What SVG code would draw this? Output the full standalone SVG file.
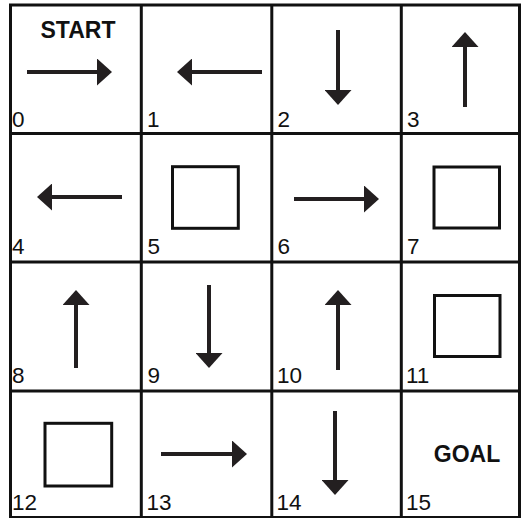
<svg xmlns="http://www.w3.org/2000/svg" width="526" height="518" viewBox="0 0 526 518">
<style>
.grid{stroke:#111;stroke-width:3;fill:none}
.arr{stroke:#231f20;stroke-width:4;fill:none;marker-end:url(#head)}
.box{stroke:#111;stroke-width:3;fill:#fff}
.num{font-family:"Liberation Sans",Arial,sans-serif;font-size:22.5px;fill:#111}
.lbl{font-family:"Liberation Sans",Arial,sans-serif;font-size:23px;font-weight:bold;fill:#111;text-anchor:middle}
</style>
<defs>
<marker id="head" markerUnits="userSpaceOnUse" markerWidth="16" markerHeight="27" refX="0" refY="13.5" orient="auto">
<path d="M0,0 L15,13.5 L0,27 Z" fill="#231f20"/>
</marker>
</defs>
<rect x="0" y="0" width="526" height="518" fill="#fff"/>
<g id="grid">
<rect class="grid" x="10.5" y="5" width="509" height="512.5"/>
<line class="grid" x1="141.3" y1="5" x2="141.3" y2="518"/>
<line class="grid" x1="271.8" y1="5" x2="271.8" y2="518"/>
<line class="grid" x1="401.3" y1="5" x2="401.3" y2="518"/>
<line class="grid" x1="10" y1="133.5" x2="520" y2="133.5"/>
<line class="grid" x1="10" y1="262" x2="520" y2="262"/>
<line class="grid" x1="10" y1="391" x2="520" y2="391"/>
</g>
<g id="cell0"><text class="lbl" x="78" y="37.5">START</text><line class="arr" x1="27" y1="72" x2="97" y2="72"/><text class="num" x="12" y="127">0</text></g>
<g id="cell1"><line class="arr" x1="262" y1="72" x2="192" y2="72"/><text class="num" x="147" y="127">1</text></g>
<g id="cell2"><line class="arr" x1="338" y1="30" x2="338" y2="90"/><text class="num" x="277.5" y="127">2</text></g>
<g id="cell3"><line class="arr" x1="465" y1="107" x2="465" y2="47"/><text class="num" x="407" y="127">3</text></g>
<g id="cell4"><line class="arr" x1="122" y1="197" x2="52" y2="197"/><text class="num" x="12" y="254">4</text></g>
<g id="cell5"><rect class="box" x="172.5" y="166.7" width="65.8" height="61.6"/><text class="num" x="147.5" y="254">5</text></g>
<g id="cell6"><line class="arr" x1="294" y1="199" x2="364" y2="199"/><text class="num" x="277.5" y="254">6</text></g>
<g id="cell7"><rect class="box" x="434" y="167" width="65.5" height="61"/><text class="num" x="407" y="254">7</text></g>
<g id="cell8"><line class="arr" x1="76" y1="368" x2="76" y2="305"/><text class="num" x="12" y="383">8</text></g>
<g id="cell9"><line class="arr" x1="209" y1="285" x2="209" y2="353"/><text class="num" x="147.5" y="383">9</text></g>
<g id="cell10"><line class="arr" x1="338" y1="370" x2="338" y2="305"/><text class="num" x="277" y="383">10</text></g>
<g id="cell11"><rect class="box" x="434.5" y="295.5" width="65.5" height="61"/><text class="num" x="406" y="383">11</text></g>
<g id="cell12"><rect class="box" x="45" y="423.3" width="66.7" height="62.7"/><text class="num" x="12" y="510">12</text></g>
<g id="cell13"><line class="arr" x1="161" y1="454" x2="232" y2="454"/><text class="num" x="146.5" y="510">13</text></g>
<g id="cell14"><line class="arr" x1="335" y1="411" x2="335" y2="480"/><text class="num" x="276.5" y="510">14</text></g>
<g id="cell15"><text class="lbl" x="467" y="462">GOAL</text><text class="num" x="406" y="510">15</text></g>
</svg>
